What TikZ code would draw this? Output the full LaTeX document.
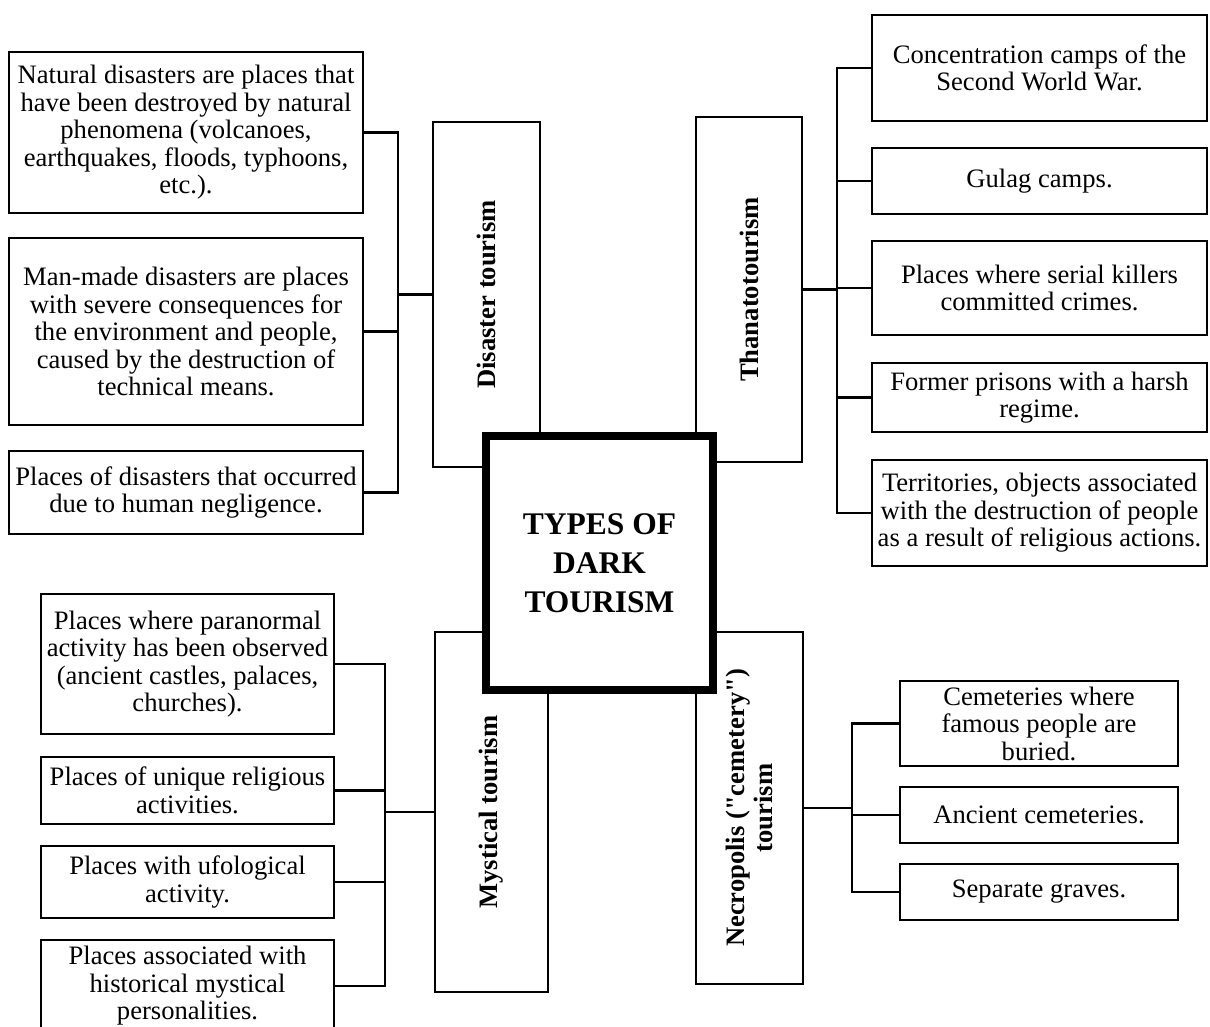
\documentclass[tikz,border=0pt]{standalone}
\usepackage{fontspec}
\setmainfont{Liberation Serif}[Ligatures=TeXOff]
\begin{document}
\begin{tikzpicture}[x=1pt,y=-1pt,
  txt/.style={font=\fontsize{26.6}{27.5}\selectfont},
  box/.style={draw, line width=2.2pt, fill=white, inner sep=0pt, align=center, txt},
  cat/.style={draw, line width=2.2pt, fill=white, inner sep=0pt},
  catlabel/.style={rotate=90, align=center, inner sep=0pt, font=\fontsize{26.6}{28}\selectfont\bfseries},
  conn/.style={line width=2.2pt},
  mainbox/.style={draw, line width=8pt, fill=white, inner sep=0pt, align=center, font=\fontsize{31.5}{39}\selectfont\bfseries}
]
\useasboundingbox (0,0) rectangle (1210,1026);

% ---------- category boxes (behind the centre box) ----------
\node[cat, minimum width=107pt, minimum height=345pt] (dis) at (486.5,294.5) {};
\node[catlabel] (dislab) at (dis.center) {Disaster tourism};
\node[cat, minimum width=106pt, minimum height=345pt] (than) at (749,289.5) {};
\node[catlabel] (thanlab) at (than.center) {Thanatotourism};
\node[cat, minimum width=113pt, minimum height=360pt] (myst) at (491.5,812) {};
\node[catlabel] (mystlab) at (myst.center) {Mystical tourism};
\node[cat, minimum width=107pt, minimum height=352pt] (necro) at (749.5,808) {};
\node[catlabel] (necrolab) at (necro.center) {Necropolis ("cemetery")\\tourism};

% ---------- centre ----------
\node[mainbox, minimum width=227pt, minimum height=254pt] (main) at (599.5,563) {TYPES OF\\DARK\\TOURISM};

% ---------- disaster tourism ----------
\node[box, minimum width=354pt, minimum height=161pt] (d1) at (186,132.5)
  {Natural disasters are places that\\have been destroyed by natural\\phenomena (volcanoes,\\earthquakes, floods, typhoons,\\etc.).};
\node[box, minimum width=354pt, minimum height=187pt] (d2) at (186,331.5)
  {Man-made disasters are places\\with severe consequences for\\the environment and people,\\caused by the destruction of\\technical means.};
\node[box, minimum width=354pt, minimum height=83pt] (d3) at (186,492.5)
  {Places of disasters that occurred\\due to human negligence.};
\coordinate (dj) at (398,294.5);
\draw[conn] (d1.east) -| (dj);
\draw[conn] (d2.east) -| (dj);
\draw[conn] (d3.east) -| (dj);
\draw[conn] (dj) -- (dis.west);

% ---------- thanatotourism ----------
\node[box, minimum width=335pt, minimum height=106pt] (r1) at (1039.5,68)
  {Concentration camps of the\\Second World War.};
\node[box, minimum width=335pt, minimum height=66pt] (r2) at (1039.5,181)
  {Gulag camps.};
\node[box, minimum width=335pt, minimum height=94pt] (r3) at (1039.5,288)
  {Places where serial killers\\committed crimes.};
\node[box, minimum width=335pt, minimum height=69pt] (r4) at (1039.5,397.5)
  {Former prisons with a harsh\\regime.};
\node[box, minimum width=335pt, minimum height=106pt] (r5) at (1039.5,513)
  {Territories, objects associated\\with the destruction of people\\as a result of religious actions.};
\coordinate (tj) at (837,289.5);
\draw[conn] (than.east) -- (tj);
\draw[conn] (tj) |- (r1.west);
\draw[conn] (tj) |- (r2.west);
\draw[conn] (tj) |- (r3.west);
\draw[conn] (tj) |- (r4.west);
\draw[conn] (tj) |- (r5.west);

% ---------- mystical tourism ----------
\node[box, minimum width=293pt, minimum height=140pt] (m1) at (187.5,664)
  {Places where paranormal\\activity has been observed\\(ancient castles, palaces,\\churches).};
\node[box, minimum width=293pt, minimum height=67pt] (m2) at (187.5,790.5)
  {Places of unique religious\\activities.};
\node[box, minimum width=293pt, minimum height=72pt] (m3) at (187.5,882)
  {Places with ufological\\activity.};
\node[box, minimum width=293pt, minimum height=92pt] (m4) at (187.5,986)
  {Places associated with\\historical mystical\\personalities.};
\coordinate (mj) at (385,812);
\draw[conn] (m1.east) -| (mj);
\draw[conn] (m2.east) -| (mj);
\draw[conn] (m3.east) -| (mj);
\draw[conn] (m4.east) -| (mj);
\draw[conn] (mj) -- (myst.west);

% ---------- necropolis tourism ----------
\node[box, minimum width=278pt, minimum height=85pt] (n1) at (1039,723.5)
  {Cemeteries where\\famous people are\\buried.};
\node[box, minimum width=278pt, minimum height=56pt] (n2) at (1039,815)
  {Ancient cemeteries.};
\node[box, minimum width=278pt, minimum height=56pt] (n3) at (1039,892)
  {Separate graves.};
\coordinate (nj) at (852,808);
\draw[conn] (necro.east) -- (nj);
\draw[conn] (nj) |- (n1.west);
\draw[conn] (nj) |- (n2.west);
\draw[conn] (nj) |- (n3.west);
\end{tikzpicture}
\end{document}
